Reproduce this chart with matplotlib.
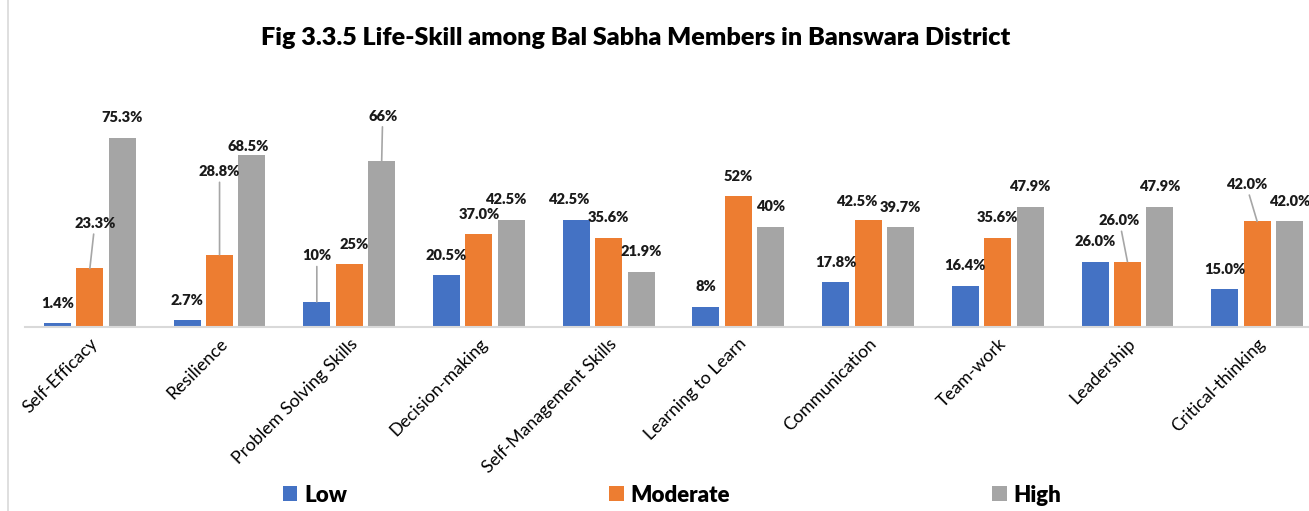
import matplotlib.pyplot as plt
import numpy as np
from matplotlib.lines import Line2D

plt.rcParams['font.family'] = ['Lato', 'DejaVu Sans']

categories = ['Self-Efficacy', 'Resilience', 'Problem Solving Skills', 'Decision-making',
              'Self-Management Skills', 'Learning to Learn', 'Communication', 'Team-work',
              'Leadership', 'Critical-thinking']
low = [1.4, 2.7, 10, 20.5, 42.5, 8, 17.8, 16.4, 26.0, 15.0]
moderate = [23.3, 28.8, 25, 37.0, 35.6, 52, 42.5, 35.6, 26.0, 42.0]
high = [75.3, 68.5, 66, 42.5, 21.9, 40, 39.7, 47.9, 47.9, 42.0]
low_labels = ['1.4%', '2.7%', '10%', '20.5%', '42.5%', '8%', '17.8%', '16.4%', '26.0%', '15.0%']
moderate_labels = ['23.3%', '28.8%', '25%', '37.0%', '35.6%', '52%', '42.5%', '35.6%', '26.0%', '42.0%']
high_labels = ['75.3%', '68.5%', '66%', '42.5%', '21.9%', '40%', '39.7%', '47.9%', '47.9%', '42.0%']

colors = ['#4472C4', '#ED7D31', '#A5A5A5']

# label nudges in pixels (dx, height above bar top), leader line flag
nudges = {
    (1, 0): (5, 45, True),
    (1, 1): (0, 83, True),
    (2, 1): (-4, 8, False),
    (0, 2): (0, 46, True),
    (1, 2): (5, 20, False),
    (2, 2): (1, 45, True),
    (2, 3): (-6, 21, False),
    (0, 4): (-8, 21, False),
    (1, 6): (-11, 19, False),
    (1, 8): (-8, 41, True),
    (1, 9): (-11, 37, True),
}

fig = plt.figure(figsize=(13.09, 5.11), dpi=100)
ax = fig.add_axes([25 / 1309, 1 - 327 / 511, 1297 / 1309, 201 / 511])

x = np.arange(len(categories))
width = 0.208
step = 0.25
series = [('Low', low, low_labels), ('Moderate', moderate, moderate_labels), ('High', high, high_labels)]
for s, (name, vals, labs) in enumerate(series):
    xs = x + (s - 1) * step
    ax.bar(xs, vals, width, color=colors[s], label=name)
    for i in range(len(vals)):
        dx, dy, leader = nudges.get((s, i), (0, 20, False))
        props = None
        if leader:
            props = dict(arrowstyle='-', color='#A6A6A6', lw=1.2, shrinkA=1, shrinkB=0)
        ax.annotate(labs[i], xy=(xs[i], vals[i]), xytext=(dx, dy), textcoords='offset pixels',
                    ha='center', va='center', fontsize=10.5, fontweight='heavy', color='#1a1a1a',
                    arrowprops=props, annotation_clip=False)

ax.set_xlim(-0.5, len(categories) - 0.5)
ax.set_ylim(0, 80)
ax.set_yticks([])
ax.set_xticks(x)
ax.set_xticklabels(categories, rotation=45, ha='right', rotation_mode='anchor', fontsize=12.8)
ax.tick_params(axis='x', length=0, pad=6)
for side in ['top', 'right', 'left']:
    ax.spines[side].set_visible(False)
ax.spines['bottom'].set_color('#D9D9D9')
ax.spines['bottom'].set_linewidth(1.5)

fig.text(636 / 1309, 1 - 38 / 511, 'Fig 3.3.5 Life-Skill among Bal Sabha Members in Banswara District',
         ha='center', va='center', fontsize=18.1, fontweight='heavy')

fig.add_artist(Line2D([8 / 1309, 8 / 1309], [0, 1], color='#D9D9D9', lw=1.2))

fig.legend(loc='center', bbox_to_anchor=(672 / 1309, 1 - 495 / 511), ncol=3, frameon=False,
           prop={'size': 16, 'weight': 'heavy'}, handlelength=0.65, handleheight=0.65,
           handletextpad=0.3, columnspacing=11.8)

fig.savefig('out.png', dpi=100)
